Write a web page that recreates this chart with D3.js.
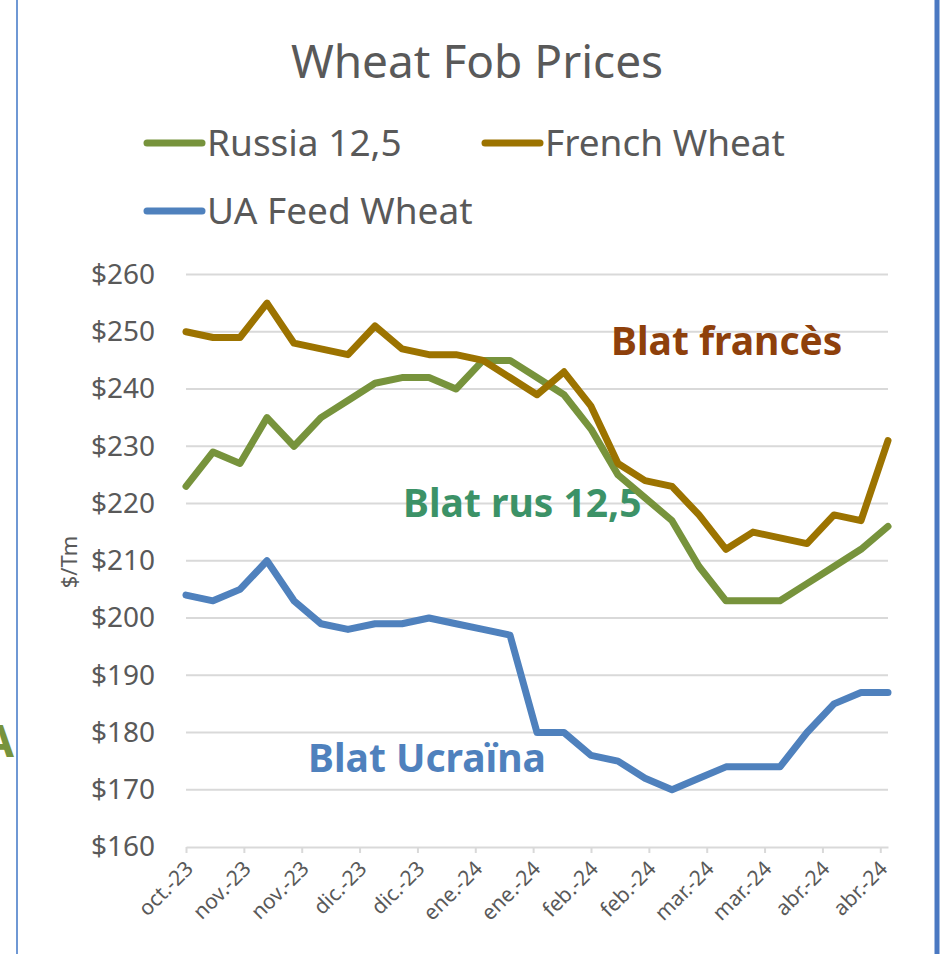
<!DOCTYPE html>
<html>
<head>
<meta charset="utf-8">
<script src="https://cdn.jsdelivr.net/npm/d3@7"></script>
<style>
  body { margin: 0; background: #fff; }
  svg { display: block; font-family: "Noto Sans", "Open Sans", sans-serif; }
</style>
</head>
<body>
<div class="fob-chart"></div>
<script>
// weekly quotes, $/Tm
const weeks = [
  "2023-10-20", "2023-10-27", "2023-11-03", "2023-11-10", "2023-11-17", "2023-11-24",
  "2023-12-01", "2023-12-08", "2023-12-15", "2023-12-22", "2023-12-29", "2024-01-05",
  "2024-01-12", "2024-01-19", "2024-01-26", "2024-02-02", "2024-02-09", "2024-02-16",
  "2024-02-23", "2024-03-01", "2024-03-08", "2024-03-15", "2024-03-22", "2024-03-29",
  "2024-04-05", "2024-04-12", "2024-04-19"
]
const russia = [223, 229, 227, 235, 230, 235, 238, 241, 242, 242, 240, 245, 245, 242,
  239, 233, 225, 221, 217, 209, 203, 203, 203, 206, 209, 212, 216]
const french = [250, 249, 249, 255, 248, 247, 246, 251, 247, 246, 246, 245, 242, 239,
  243, 237, 227, 224, 223, 218, 212, 215, 214, 213, 218, 217, 231]
const uaFeed = [204, 203, 205, 210, 203, 199, 198, 199, 199, 200, 199, 198, 197, 180,
  180, 176, 175, 172, 170, 172, 174, 174, 174, 180, 185, 187, 187]

// excel date axis, one label every 15 days
const tickDates = [
  "2023-10-20", "2023-11-04", "2023-11-19", "2023-12-04", "2023-12-19", "2024-01-03",
  "2024-01-18", "2024-02-02", "2024-02-17", "2024-03-03", "2024-03-18", "2024-04-02",
  "2024-04-17"
]
const tickLabels = ["oct.-23", "nov.-23", "nov.-23", "dic.-23", "dic.-23", "ene.-24",
  "ene.-24", "feb.-24", "feb.-24", "mar.-24", "mar.-24", "abr.-24", "abr.-24"]
const yTicks = [160, 170, 180, 190, 200, 210, 220, 230, 240, 250, 260]

const seriesNames = ["Russia 12,5", "French Wheat", "UA Feed Wheat"]
const seriesValues = [russia, french, uaFeed]
const colors = ["#77933c", "#9c7300", "#4f81bd"]

const width = 940, height = 954
const textGrey = "#595959"

const svg = d3.select('.fob-chart')
  .append('svg')
  .attr('width', width)
  .attr('height', height)

const parse = d3.utcParse("%Y-%m-%d")

const x = d3.scaleUtc()
  .domain([parse(weeks[0]), parse(weeks[weeks.length - 1])])
  .range([186, 888])

const y = d3.scaleLinear()
  .domain([160, 260])
  .range([847, 274.5])

// frame edges
svg.append('line')
  .attr('x1', 17).attr('x2', 17).attr('y1', 0).attr('y2', height)
  .attr('stroke', '#6f98d4').attr('stroke-width', 2)
svg.append('line')
  .attr('x1', 937).attr('x2', 937).attr('y1', 0).attr('y2', height)
  .attr('stroke', '#4a78c2').attr('stroke-width', 5)

// stray letter cut off on the left edge (as in the source screenshot)
svg.append('text')
  .attr('x', 14).attr('y', 757)
  .attr('text-anchor', 'end')
  .attr('font-size', 44).attr('font-weight', 700)
  .attr('fill', '#77933c')
  .text('A')

// title
svg.append('text')
  .attr('x', 477).attr('y', 78)
  .attr('text-anchor', 'middle')
  .attr('font-size', 46)
  .attr('fill', textGrey)
  .text('Wheat Fob Prices')

// legend
const legendPos = [[147, 143], [485, 143], [147, 211]]
const legend = svg.append('g')
legendPos.forEach((p, i) => {
  legend.append('line')
    .attr('x1', p[0]).attr('x2', p[0] + 55)
    .attr('y1', p[1]).attr('y2', p[1])
    .attr('stroke', colors[i]).attr('stroke-width', 7)
    .attr('stroke-linecap', 'round')
  legend.append('text')
    .attr('x', p[0] + 60).attr('y', p[1] + 13)
    .attr('font-size', 37)
    .attr('fill', textGrey)
    .text(seriesNames[i])
})

// gridlines
svg.append('g')
  .selectAll('line')
  .data(yTicks.slice(1))
  .enter()
  .append('line')
  .attr('x1', 186).attr('x2', 888)
  .attr('y1', d => y(d)).attr('y2', d => y(d))
  .attr('stroke', '#d9d9d9').attr('stroke-width', 2)

// y axis labels
const yAxis = svg.append('g')
  .attr('transform', 'translate(186,0)')
  .call(d3.axisLeft(y).tickValues(yTicks).tickSize(0).tickPadding(31).tickFormat(d => '$' + d))
yAxis.select('.domain').remove()
yAxis.selectAll('text')
  .attr('font-size', 28)
  .attr('font-family', '"Noto Sans", sans-serif')
  .attr('fill', textGrey)

svg.append('text')
  .attr('transform', 'translate(77,562) rotate(-90)')
  .attr('text-anchor', 'middle')
  .attr('font-size', 22)
  .attr('fill', textGrey)
  .text('$/Tm')

// x axis
const xAxis = svg.append('g')
  .attr('transform', `translate(0,${y(160)})`)
  .call(d3.axisBottom(x)
    .tickValues(tickDates.map(parse))
    .tickSize(6)
    .tickSizeOuter(0)
    .tickFormat((d, i) => tickLabels[i]))
xAxis.select('.domain').attr('stroke', '#d9d9d9').attr('stroke-width', 2)
xAxis.selectAll('.tick line').attr('stroke', '#d9d9d9').attr('stroke-width', 2)
xAxis.selectAll('text')
  .attr('font-size', 21)
  .attr('font-family', '"Noto Sans", sans-serif')
  .attr('fill', textGrey)
  .attr('text-anchor', 'end')
  .attr('dy', 0)
  .attr('y', 0)
  .attr('transform', 'translate(8,23) rotate(-45)')

// annotations
const notes = [
  { text: 'Blat francès', x: 611, y: 355, color: '#8e400b' },
  { text: 'Blat rus 12,5', x: 403, y: 517, color: '#3c9267' },
  { text: 'Blat Ucraïna', x: 308, y: 772, color: '#4f81bd' }
]
svg.append('g')
  .selectAll('text')
  .data(notes)
  .enter()
  .append('text')
  .attr('x', d => d.x).attr('y', d => d.y)
  .attr('font-size', 39)
  .attr('font-weight', 700)
  .attr('fill', d => d.color)
  .text(d => d.text)

// series
const line = d3.line()
  .x((d, i) => x(parse(weeks[i])))
  .y(d => y(d))

svg.append('g')
  .selectAll('path')
  .data(seriesValues)
  .enter()
  .append('path')
  .attr('d', line)
  .attr('fill', 'none')
  .attr('stroke', (d, i) => colors[i])
  .attr('stroke-width', 7)
  .attr('stroke-linejoin', 'round')
  .attr('stroke-linecap', 'round')
</script>
</body>
</html>
